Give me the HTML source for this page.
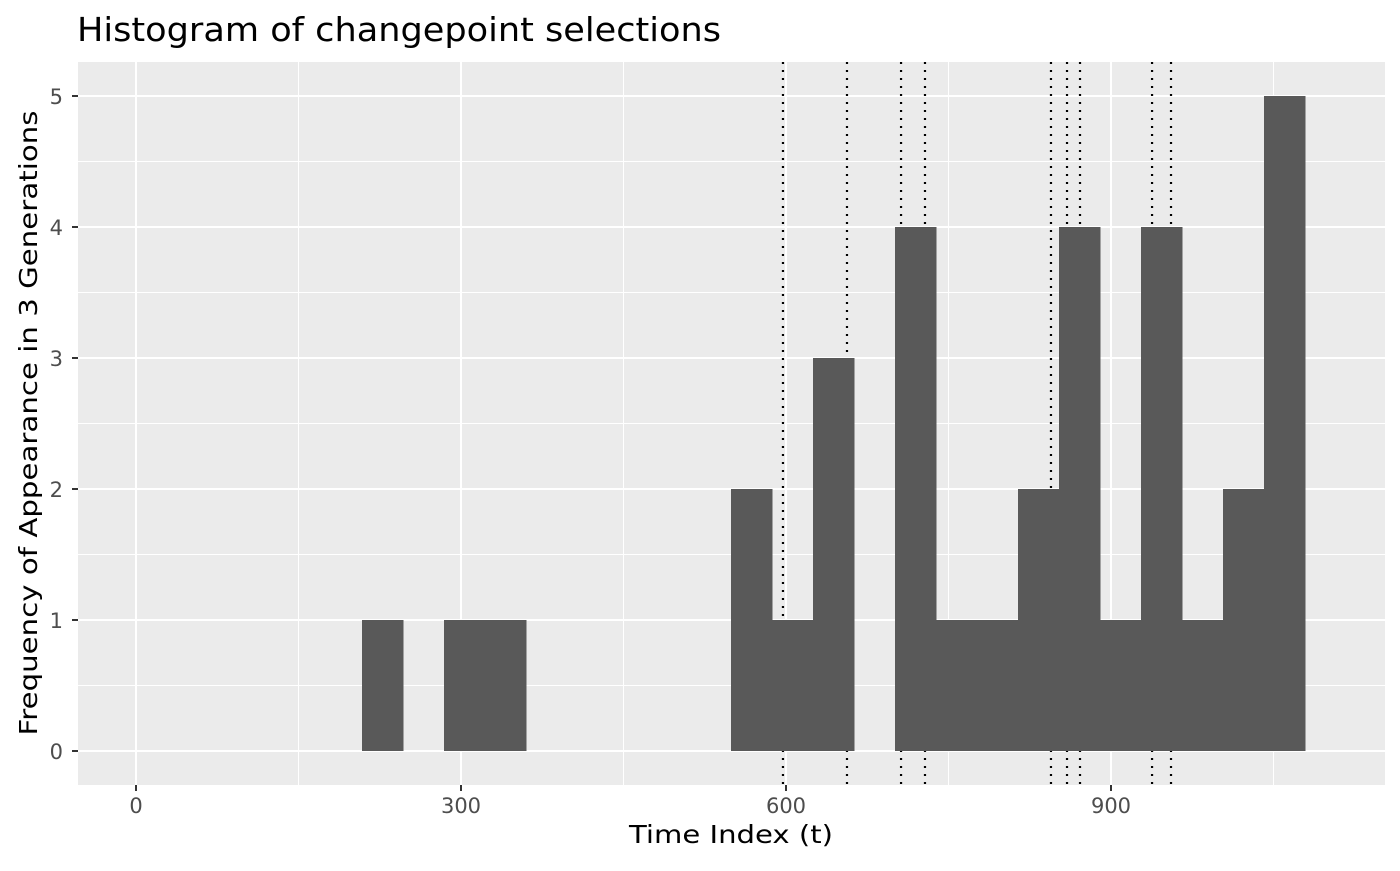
<!DOCTYPE html>
<html><head><meta charset="utf-8"><style>
body{margin:0;background:#fff;font-family:"Liberation Sans","DejaVu Sans",sans-serif}
</style></head><body>
<svg id="chart" width="1400" height="866" xmlns="http://www.w3.org/2000/svg" font-family="DejaVu Sans, Liberation Sans, sans-serif">
<text x="77" y="41" font-size="33" fill="#000" textLength="644" lengthAdjust="spacingAndGlyphs">Histogram of changepoint selections</text>
<rect x="78" y="62" width="1307" height="723" fill="#ebebeb"/>
<g id="grid"></g><g id="vlines"></g><g id="bars" shape-rendering="crispEdges"></g><g id="axes"></g>
<text x="731" y="843" font-size="25" text-anchor="middle" textLength="204" lengthAdjust="spacingAndGlyphs">Time Index (t)</text>
<text transform="translate(37,423) rotate(-90)" font-size="25" text-anchor="middle" textLength="625" lengthAdjust="spacingAndGlyphs">Frequency of Appearance in 3 Generations</text>
</svg>
<script>
const binStarts=[208.6,246.5,284.3,322.2,360,397.9,435.7,473.6,511.4,549.3,587.1,625,662.8,700.7,738.5,776.4,814.2,852.1,889.9,927.8,965.6,1003.5,1041.3];
const counts=[1,0,1,1,0,0,0,0,0,2,1,3,0,4,1,1,2,4,1,4,1,2,5];
const binWidth=37.85;
const changepoints=[597.2,656.3,706.2,728.3,844.6,859.4,871.4,937.9,955.4];
const xTicks=[0,300,600,900];
const yTicks=[0,1,2,3,4,5];
const NS='http://www.w3.org/2000/svg';
const X=v=>136+v*(325/300);
const Y=v=>751-v*131;
function mk(tag,attrs,parent){const e=document.createElementNS(NS,tag);for(const k in attrs)e.setAttribute(k,attrs[k]);document.getElementById(parent).appendChild(e);return e;}
const panelTop=62,panelBot=785,panelLeft=78,panelRight=1385;
[150,450,750,1050].forEach(v=>{const l=mk('line',{x1:X(v),x2:X(v),y1:panelTop,y2:panelBot,stroke:'#fff','stroke-width':1},'grid');

});
[0.5,1.5,2.5,3.5,4.5].forEach(v=>{const l=mk('line',{x1:panelLeft,x2:panelRight,y1:Y(v),y2:Y(v),stroke:'#fff','stroke-width':1},'grid');

});
xTicks.forEach(v=>{const l=mk('line',{x1:X(v),x2:X(v),y1:panelTop,y2:panelBot,stroke:'#fff','stroke-width':2},'grid');


const t=mk('line',{x1:X(v),x2:X(v),y1:panelBot,y2:panelBot+6,stroke:'#333','stroke-width':2},'axes');


const tx=mk('text',{x:X(v),y:panelBot+28,'font-size':21,fill:'#4d4d4d','text-anchor':'middle'},'axes');tx.textContent=v;

});
yTicks.forEach(v=>{const l=mk('line',{x1:panelLeft,x2:panelRight,y1:Y(v),y2:Y(v),stroke:'#fff','stroke-width':2},'grid');


const t=mk('line',{x1:panelLeft-6,x2:panelLeft,y1:Y(v),y2:Y(v),stroke:'#333','stroke-width':2},'axes');


const tx=mk('text',{x:panelLeft-15,y:Y(v)+8,'font-size':21,fill:'#4d4d4d','text-anchor':'end'},'axes');tx.textContent=v;

});
changepoints.forEach(v=>{const l=mk('line',{x1:X(v),x2:X(v),y1:panelTop,y2:panelBot,stroke:'#000','stroke-width':2.2,'stroke-dasharray':'2 6'},'vlines');

});
binStarts.forEach((s,i)=>{if(!counts[i])return;const r=mk('rect',{x:X(s),y:Y(counts[i]),width:X(s+binWidth)-X(s)+0.5,height:Y(0)-Y(counts[i]),fill:'#595959'},'bars');

});
</script>
</body></html>
